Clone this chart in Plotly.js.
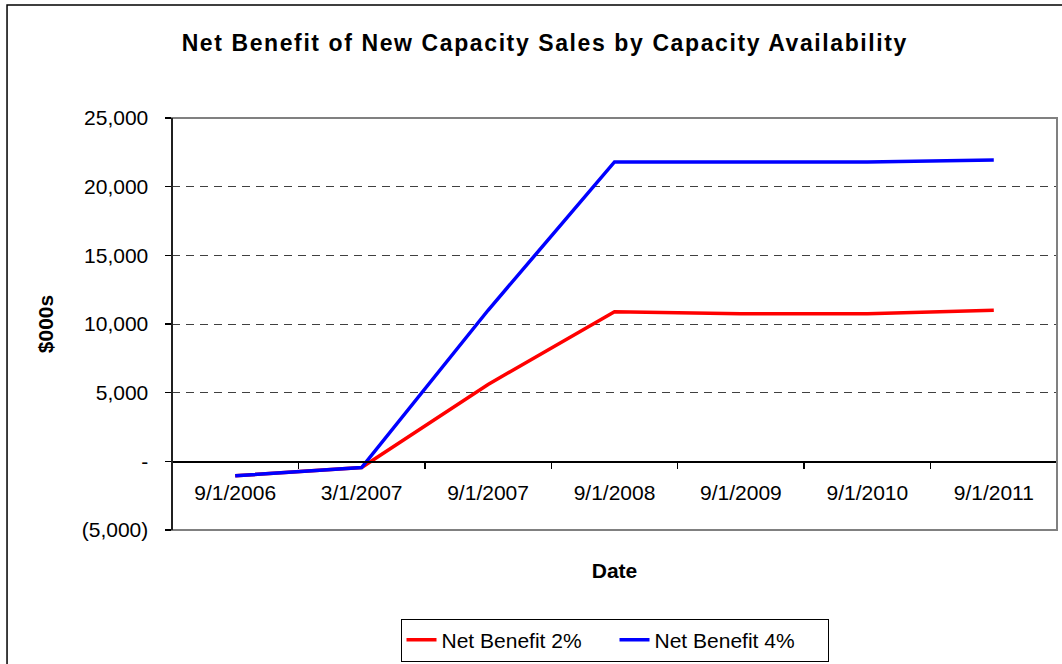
<!DOCTYPE html>
<html>
<head>
<meta charset="utf-8">
<script src="https://cdn.plot.ly/plotly-3.0.1.min.js"></script>
<style>html,body{margin:0;padding:0;background:#fff;}#chart{width:1062px;height:664px;}
#chart .gtitle{letter-spacing:1.6px;}</style>
</head>
<body>
<div id="chart"></div>
<script>
var dates = ["9/1/2006", "3/1/2007", "9/1/2007", "9/1/2008", "9/1/2009", "9/1/2010", "9/1/2011"];
var benefit2 = [-1050, -450, 5600, 10900, 10750, 10750, 11000];
var benefit4 = [-1050, -450, 11000, 21800, 21800, 21800, 21950];
var yTickVals = [-5000, 0, 5000, 10000, 15000, 20000, 25000];
var yTickText = ["(5,000)", "-", "5,000", "10,000", "15,000", "20,000", "25,000"];
var seriesNames = ["Net Benefit 2%", "Net Benefit 4%"];

var FONT = "Liberation Sans, Arial, sans-serif";
var traces = [
  {x: dates, y: benefit2, name: seriesNames[0], type: "scatter", mode: "lines",
   line: {color: "#FF0000", width: 3.5}},
  {x: dates, y: benefit4, name: seriesNames[1], type: "scatter", mode: "lines",
   line: {color: "#0000FF", width: 3.5}}
];
var layout = {
  width: 1062, height: 664,
  margin: {l: 172, r: 5, t: 118, b: 134, autoexpand: false},
  paper_bgcolor: "#fff", plot_bgcolor: "#fff",
  font: {family: FONT, size: 21, color: "#000"},
  title: {text: "<b>Net Benefit of New Capacity Sales by Capacity Availability</b>",
          font: {family: FONT, size: 23, color: "#000"},
          x: 0.513, xref: "container", xanchor: "center",
          y: 0.935, yref: "container", yanchor: "middle", automargin: false},
  showlegend: true,
  legend: {orientation: "h", x: 0.5, xanchor: "center", y: -0.215, yanchor: "top",
           bordercolor: "#000", borderwidth: 1, font: {size: 21},
           entrywidth: 168, entrywidthmode: "pixels"},
  xaxis: {type: "category", anchor: "free", position: 1/6, range: [-0.5, 6.5],
          automargin: false,
          showline: true, linecolor: "#000", linewidth: 1.5,
          ticks: "outside", ticklen: 6, tickcolor: "#000", tickwidth: 1.5,
          tickson: "boundaries", showgrid: false, zeroline: false,
          ticklabelstandoff: 12,
          tickfont: {size: 21},
          title: {text: "<b>Date</b>", font: {size: 21}, standoff: 60}},
  yaxis: {range: [-5000, 25000], tickvals: yTickVals, ticktext: yTickText,
          automargin: false,
          showline: true, linecolor: "#000", linewidth: 1.5,
          ticks: "outside", ticklen: 6, tickcolor: "#000", tickwidth: 1.5,
          ticklabelstandoff: 12,
          showgrid: true, gridcolor: "#404040", gridwidth: 1, griddash: "8px,6px",
          zeroline: false, tickfont: {size: 21},
          title: {text: "<b>$000s</b>", font: {size: 21}, standoff: 22}},
  shapes: [
    {type: "rect", xref: "paper", yref: "paper", x0: 0, x1: 1, y0: 0, y1: 1,
     line: {color: "#808080", width: 2}, layer: "above"},
    {type: "line", xref: "paper", yref: "paper", x0: 0, x1: 0, y0: 0, y1: 1,
     line: {color: "#000", width: 1.5}, layer: "above"},
    {type: "rect", xref: "paper", yref: "paper", x0: -0.1864, x1: 1.02, y0: -0.35, y1: 1.274,
     line: {color: "#000", width: 1.5}, layer: "above"}
  ]
};
Plotly.newPlot("chart", traces, layout, {displayModeBar: false, staticPlot: true});
</script>
</body>
</html>
